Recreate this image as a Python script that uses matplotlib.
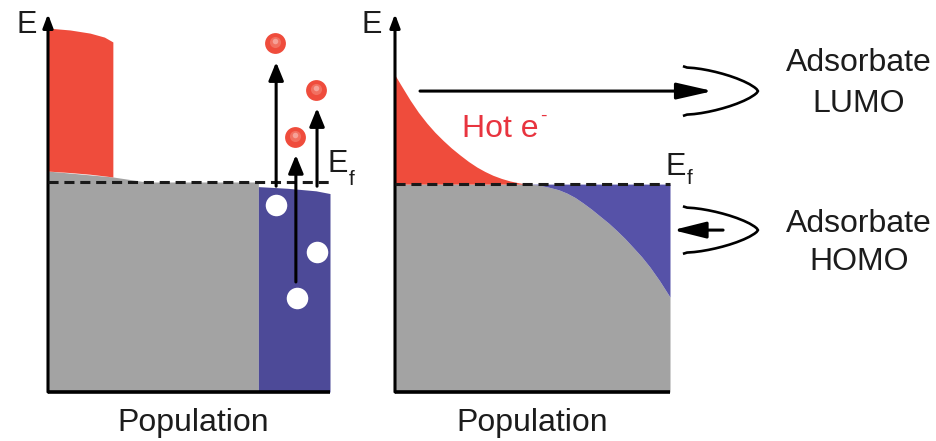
import numpy as np
import matplotlib
matplotlib.use("Agg")
import matplotlib.pyplot as plt

plt.rcParams["font.family"] = ["Liberation Sans", "DejaVu Sans"]

# energies are relative to E_f (E_f = 0, bottom of band = -1), population 0..1

# left panel
left_red_pop = [0, 0.078, 0.149, 0.20, 0.23]
left_red_top = [0.733, 0.724, 0.709, 0.690, 0.667]
left_red_bottom = [0.052, 0.045, 0.037, 0.029, 0.024]
left_gray_pop = [0, 0.23, 0.35, 0.746]
left_gray_top = [0.052, 0.024, 0.0, 0.0]
left_blue_pop = [0.746, 0.85, 0.95, 1.0]
left_blue_top = [-0.022, -0.030, -0.042, -0.055]
elec_pop = [0.805, 0.950, 0.876]
elec_E = [0.662, 0.438, 0.214]
hole_pop = [0.809, 0.954, 0.883]
hole_E = [-0.110, -0.333, -0.552]
exc_pop = [0.809, 0.954, 0.879]
exc_from = [-0.02, -0.02, -0.476]
exc_to = [0.571, 0.352, 0.129]

# right panel
right_red_pop = [0, 0.02, 0.055, 0.085, 0.116, 0.145, 0.175, 0.205, 0.236,
                 0.267, 0.298, 0.327, 0.356, 0.387, 0.418, 0.45, 0.48]
right_red_top = [0.519, 0.475, 0.40, 0.342, 0.29, 0.247, 0.208, 0.172, 0.139,
                 0.108, 0.081, 0.06, 0.042, 0.027, 0.015, 0.006, 0]
right_gray_pop = [0, 0.49, 0.52, 0.56, 0.595, 0.625, 0.655, 0.684, 0.715, 0.745,
                  0.777, 0.807, 0.836, 0.865, 0.897, 0.927, 0.962, 1.0]
right_gray_top = [0, 0, -0.004, -0.015, -0.027, -0.043, -0.064, -0.09, -0.120,
                  -0.152, -0.186, -0.222, -0.259, -0.30, -0.346, -0.395, -0.46, -0.538]

# adsorbate level profile, tail -> peak (shared by LUMO and HOMO)
lobe_u = [-0.04, 0, 0.1, 0.2, 0.3, 0.4, 0.5, 0.6, 0.7, 0.8, 0.88, 0.95, 0.98, 1.0]
lobe_g = [1.04, 1, 0.978, 0.937, 0.882, 0.815, 0.736, 0.645, 0.539, 0.414,
          0.294, 0.161, 0.086, 0]
lumo_E = 0.443
homo_E = -0.219

RED = "#ef4c3c"
BLUE_L = "#4d4a98"
BLUE_R = "#5652a8"
GRAY = "#a3a3a3"
TXT = "#1c1c1c"
FS = 23

fig = plt.figure(figsize=(9.37, 4.41), dpi=100)
W, H = 937, 441


def make_ax(x0, x1, ylim):
    ax = fig.add_axes([x0 / W, 49 / H, (x1 - x0) / W, 378 / H])
    ax.set_xlim(0, 1)
    ax.set_ylim(*ylim)
    ax.axis("off")
    # axes with arrow on E
    ax.annotate("", xy=(0, ylim[1]), xytext=(0, ylim[0]),
                arrowprops=dict(arrowstyle="-|>,head_length=0.8,head_width=0.3",
                                lw=2.2, color="black", mutation_scale=10,
                                shrinkA=0, shrinkB=0))
    ax.plot([0, 1], [ylim[0], ylim[0]], color="black", lw=2.6,
            solid_capstyle="butt", clip_on=False)
    ax.plot([0, 1], [0, 0], color="#1a1a1a", lw=2.2, ls=(0, (3.3, 1.9)),
            clip_on=False, zorder=4)
    return ax


def arrow(ax, p0, p1, hl, hw, ms=10):
    ax.annotate("", xy=p1, xytext=p0, annotation_clip=False,
                arrowprops=dict(arrowstyle=f"-|>,head_length={hl},head_width={hw}",
                                lw=2.2, color="black", mutation_scale=ms,
                                shrinkA=0, shrinkB=0), zorder=5)


# ---- left panel
ax1 = make_ax(48, 330, (-1, 0.8))
ax1.fill_between(left_gray_pop, -1, left_gray_top, color=GRAY, lw=0)
ax1.fill_between(left_red_pop, left_red_bottom, left_red_top, color=RED, lw=0)
ax1.fill_between(left_blue_pop, -1, left_blue_top, color=BLUE_L, lw=0)

for x, y0, y1 in zip(exc_pop, exc_from, exc_to):
    arrow(ax1, (x, y0), (x, y1), 1.1, 0.45)

ax1.plot(hole_pop, hole_E, "o", ms=15.5, mfc="white", mec="none", zorder=6)
ax1.plot(elec_pop, elec_E, "o", ms=15, mfc=RED, mec="none", zorder=6)
ax1.plot(elec_pop, np.array(elec_E) + 0.006, "o", ms=8, mfc="#f27060",
         mec="none", zorder=6)
ax1.plot(elec_pop, np.array(elec_E) + 0.01, "o", ms=4, mfc="#f6a197",
         mec="none", zorder=6)

ax1.text(-0.11, 0.710, "E", fontsize=FS - 1, color=TXT, va="baseline")
ax1.text(0.99, 0.048, "E", fontsize=FS - 1, color=TXT, va="baseline")
ax1.text(1.068, -0.016, "f", fontsize=15, color=TXT, va="baseline")
ax1.text(0.514, -1.186, "Population", fontsize=FS, color=TXT,
         ha="center", va="baseline")

# ---- right panel
ax2 = make_ax(395, 670, (-0.99, 0.81))
ax2.fill_between(right_gray_pop, -0.99, right_gray_top, color=GRAY, lw=0)
ax2.fill_between(right_gray_pop[1:], right_gray_top[1:], 0, color=BLUE_R, lw=0)
ax2.fill_between(right_red_pop, 0, right_red_top, color=RED, lw=0)

u = np.array(lobe_u)
g = np.array(lobe_g)
lx = 1.062 + 0.258 * np.concatenate([u, u[::-1][1:]])
for c, h in [(lumo_E, 0.112), (homo_E, 0.107)]:
    ly = np.concatenate([c + h * g, (c - h * g)[::-1][1:]])
    ax2.plot(lx, ly, color="black", lw=1.9, clip_on=False,
             solid_joinstyle="round")

arrow(ax2, (0.091, lumo_E), (1.156, lumo_E), 2.2, 0.5)
arrow(ax2, (1.193, homo_E), (1.011, homo_E), 2.0, 0.5)

ax2.text(-0.12, 0.719, "E", fontsize=FS - 1, color=TXT, va="baseline")
ax2.text(0.985, 0.043, "E", fontsize=FS - 1, color=TXT, va="baseline")
ax2.text(1.062, 0.0, "f", fontsize=15, color=TXT, va="baseline")
ax2.text(0.244, 0.224, "Hot e", fontsize=FS, color="#e8343f", va="baseline")
ax2.text(0.528, 0.30, "-", fontsize=14, color="#e8343f", va="baseline")
ax2.text(0.498, -1.176, "Population", fontsize=FS, color=TXT,
         ha="center", va="baseline")

for label, y in [("Adsorbate", 0.538), ("LUMO", 0.343),
                 ("Adsorbate", -0.229), ("HOMO", -0.41)]:
    ax2.text(1.687, y, label, fontsize=FS, color=TXT, ha="center", va="baseline")

fig.savefig("out.png", dpi=100)
